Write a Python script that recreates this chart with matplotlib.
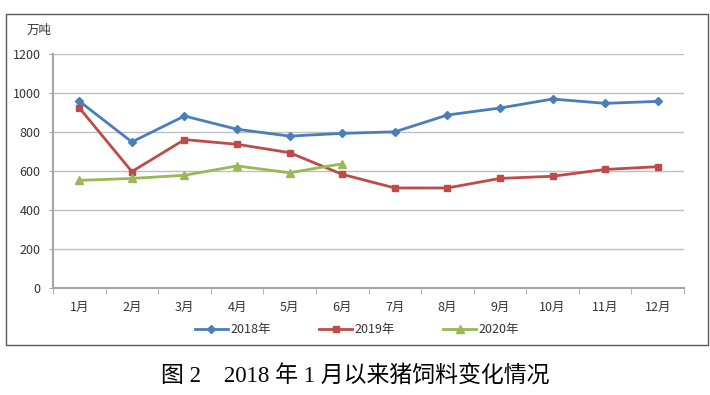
import matplotlib.pyplot as plt
from matplotlib.patches import Rectangle

plt.rcParams['font.family'] = ['Noto Sans CJK SC', 'DejaVu Sans']

months = ['1月', '2月', '3月', '4月', '5月', '6月', '7月', '8月', '9月', '10月', '11月', '12月']
feed_2018 = [958, 749, 882, 814, 779, 793, 801, 887, 923, 969, 947, 957]
feed_2019 = [924, 597, 761, 737, 694, 583, 513, 513, 562, 573, 608, 622]
feed_2020 = [552, 562, 578, 626, 591, 637]
y_ticks = [0, 200, 400, 600, 800, 1000, 1200]


def main():
    fig = plt.figure(figsize=(7.1, 3.95), dpi=100)

    # outer chart border
    fig.patches.append(Rectangle((6 / 710, 1 - 345 / 395), 702 / 710, 331 / 395,
                                 transform=fig.transFigure, fill=False,
                                 edgecolor='#595959', linewidth=1.0))

    ax = fig.add_axes([53 / 710, 1 - 288 / 395, 631 / 710, 234 / 395])
    x = list(range(len(months)))

    ax.plot(x, feed_2018, color='#4a7ebb', marker='D', markersize=4, linewidth=2.0, label='2018年')
    ax.plot(x, feed_2019, color='#be4b48', marker='s', markersize=4, linewidth=2.0, label='2019年')
    ax.plot(x[:len(feed_2020)], feed_2020, color='#98b954', marker='^', markersize=5.5, linewidth=2.0, label='2020年')

    ax.set_xlim(-0.5, len(months) - 0.5)
    ax.set_ylim(0, 1200)
    ax.set_yticks(y_ticks)
    ax.set_yticklabels([str(v) for v in y_ticks], fontsize=9, color='#333333')
    ax.set_xticks(x)
    ax.set_xticklabels(months, fontsize=9, color='#333333')
    ax.set_xticks([i - 0.5 for i in range(len(months) + 1)], minor=True)
    ax.tick_params(axis='x', which='major', length=0, pad=9)
    ax.tick_params(axis='x', which='minor', length=4, direction='out', color='#a6a6a6')
    ax.tick_params(axis='y', length=3, direction='out', color='#a6a6a6', pad=6)

    ax.grid(axis='y', color='#bfbfbf', linewidth=1.0)
    ax.set_axisbelow(True)
    for side in ['top', 'right']:
        ax.spines[side].set_visible(False)
    for side in ['left', 'bottom']:
        ax.spines[side].set_color('#a6a6a6')
        ax.spines[side].set_linewidth(1.5)

    fig.text(27 / 710, 1 - 30 / 395, '万吨', fontsize=9, color='#333333', va='center')

    fig.legend(loc='center', bbox_to_anchor=(357 / 710, 1 - 330 / 395), ncol=3, frameon=False,
               fontsize=9, handlelength=2.6, columnspacing=3.9, handletextpad=0.2,
               labelcolor='#333333')

    fig.text(355 / 710, 1 - 377 / 395, '图 2\u30002018 年 1 月以来猪饲料变化情况',
             fontsize=16.5, ha='center', va='center',
             family=['Liberation Serif', 'Noto Sans CJK SC'])

    fig.savefig('out.png', dpi=100)


if __name__ == '__main__':
    main()
